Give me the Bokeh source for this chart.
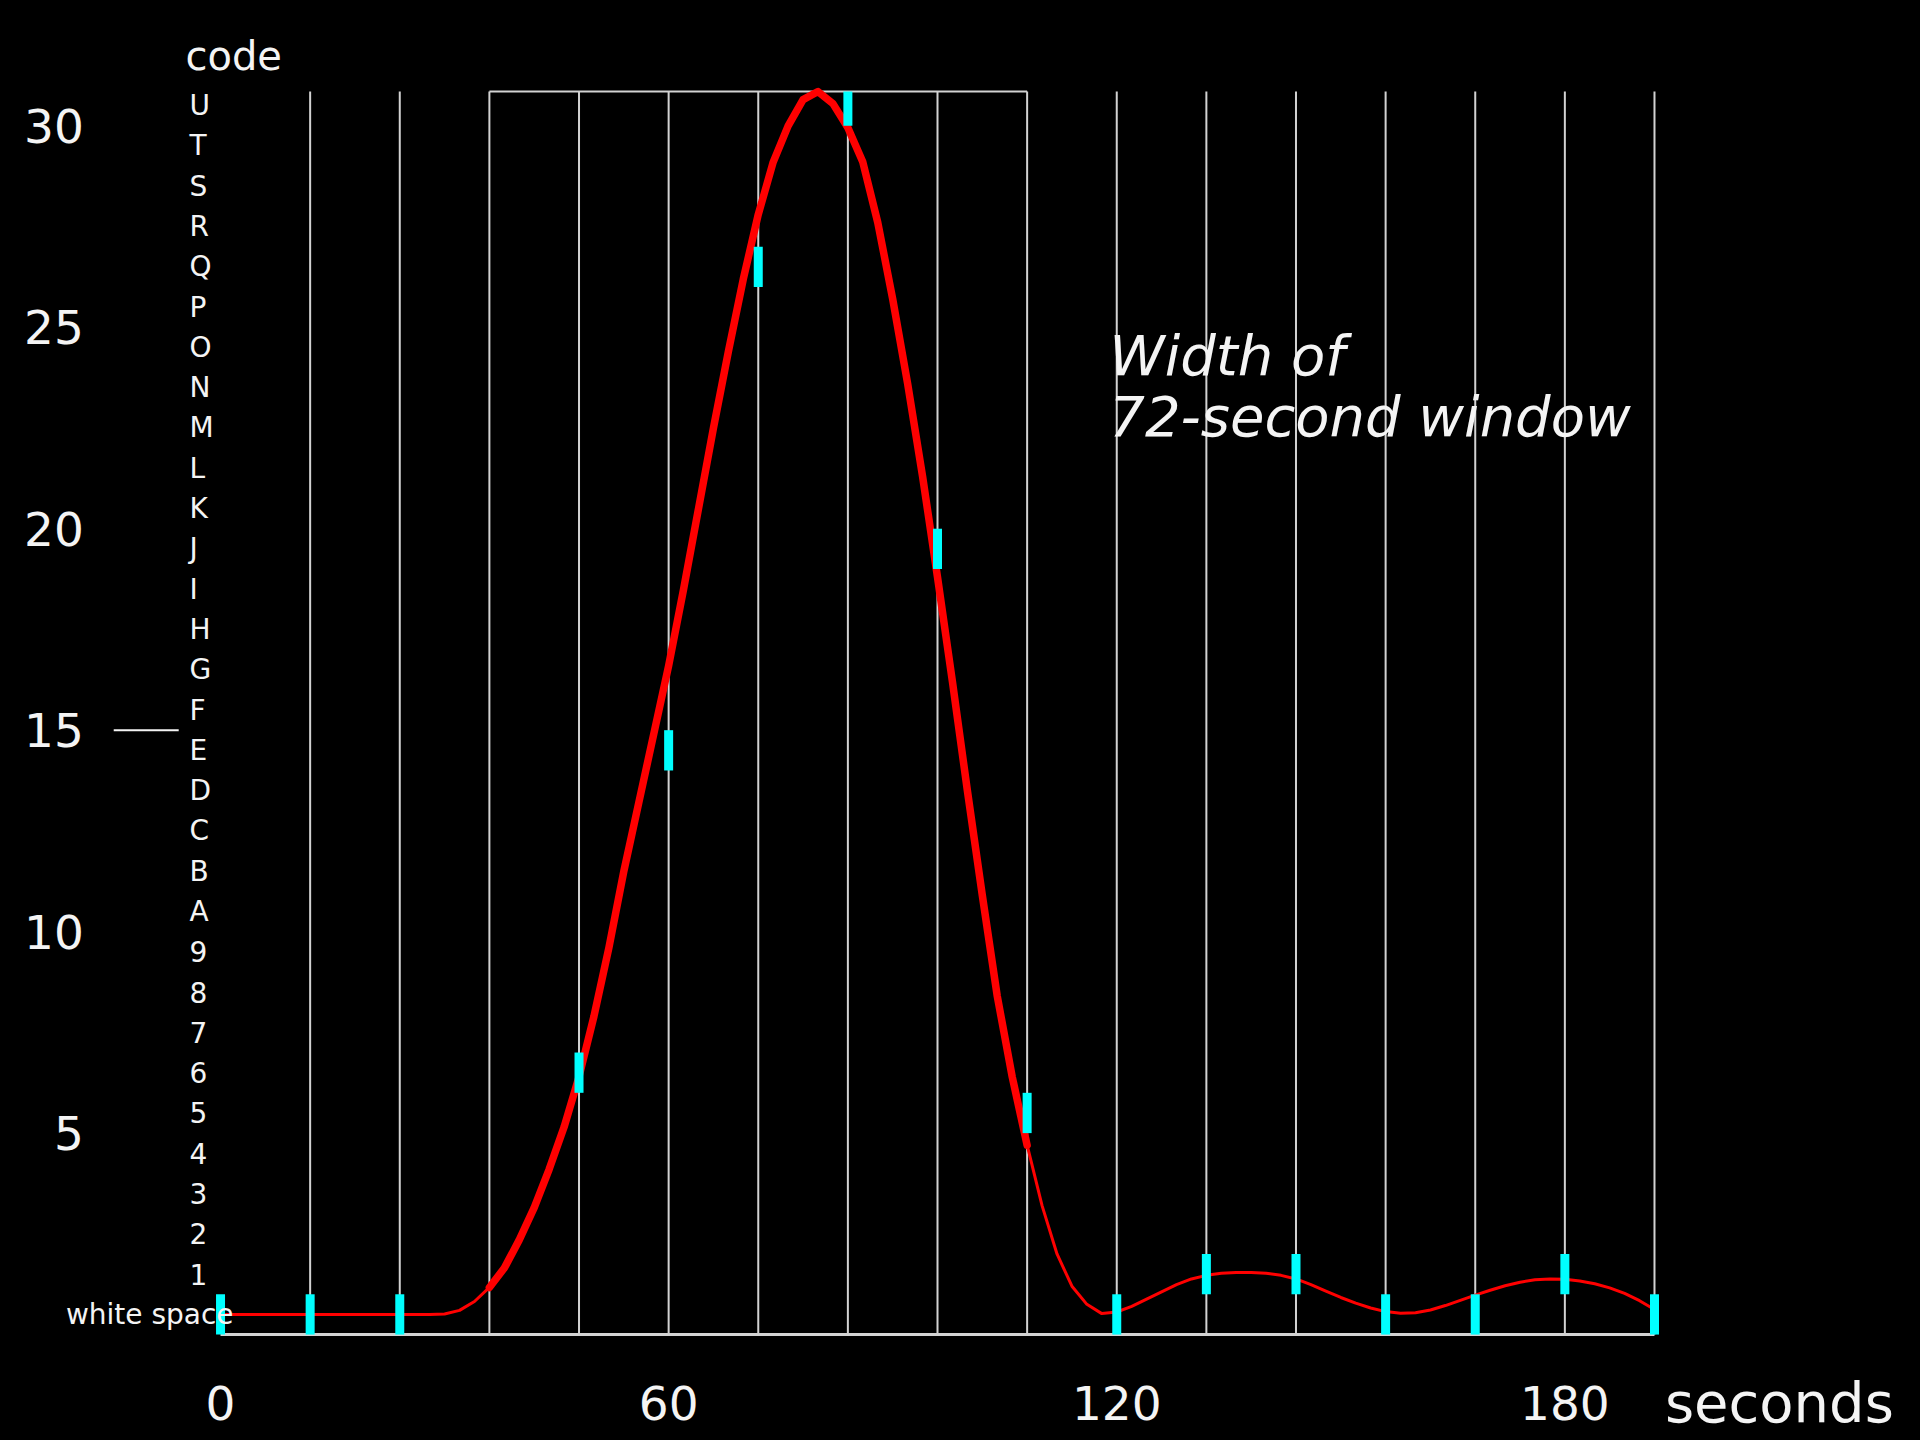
from bokeh.plotting import figure
from bokeh.models import Range1d
from bokeh.core.properties import value
from bokeh.embed import file_html
from bokeh.resources import INLINE

# ---- data ----
codes = ["white space", "1", "2", "3", "4", "5", "6", "7", "8", "9", "A", "B", "C", "D",
         "E", "F", "G", "H", "I", "J", "K", "L", "M", "N", "O", "P", "Q", "R", "S", "T", "U"]
value_ticks = [5, 10, 15, 20, 25, 30]
time_ticks = [0, 60, 120, 180]
grid_times = [12, 24, 36, 48, 60, 72, 84, 96, 108, 120, 132, 144, 156, 168, 180, 192]
window_start = 36
window_end = 108
marked_level = 15

curve_t = [0, 6, 12, 18, 24, 28, 30, 32, 34, 36, 38, 40, 42, 44, 46, 48, 50, 52, 54, 56,
           58, 60, 62, 64, 66, 68, 70, 72, 74, 76, 78, 80, 82, 84, 86, 88, 90, 92, 94, 96,
           98, 100, 102, 104, 106, 108, 110, 112, 114, 116, 118, 120, 122, 124, 126, 128,
           130, 132, 134, 136, 138, 140, 142, 144, 146, 148, 150, 152, 154, 156, 158, 160,
           162, 164, 166, 168, 170, 172, 174, 176, 178, 180, 182, 184, 186, 188, 190, 192]
curve_v = [0.5, 0.5, 0.5, 0.5, 0.5, 0.5, 0.51, 0.6, 0.82, 1.17, 1.65, 2.35, 3.15, 4.1, 5.15,
           6.4, 7.9, 9.6, 11.5, 13.2, 14.9, 16.6, 18.5, 20.5, 22.5, 24.4, 26.2, 27.8, 29.1,
           30.0, 30.65, 30.85, 30.55, 29.95, 29.1, 27.6, 25.7, 23.6, 21.3, 18.8, 16.2, 13.5,
           10.9, 8.4, 6.4, 4.7, 3.2, 2.0, 1.2, 0.75, 0.52, 0.56, 0.7, 0.88, 1.06, 1.24, 1.38,
           1.47, 1.52, 1.54, 1.54, 1.52, 1.47, 1.38, 1.24, 1.08, 0.92, 0.78, 0.66, 0.57, 0.53,
           0.54, 0.61, 0.72, 0.85, 0.98, 1.1, 1.21, 1.3, 1.36, 1.38, 1.37, 1.33, 1.26, 1.16,
           1.02, 0.84, 0.62]

sample_t = [0, 12, 24, 48, 60, 72, 84, 96, 108, 120, 132, 144, 156, 168, 180, 192]
sample_code = [0, 0, 0, 6, 14, 26, 30, 19, 5, 0, 1, 1, 0, 0, 1, 0]

annotation_lines = ["Width of", "72-second window"]
x_unit_label = "seconds"
code_title = "code"

# ---- figure ----
LINE_TOP = 30.85
GRID = "#d2d2d2"
TXT = "#f4f4f4"
FONT = value("DejaVu Sans")

p = figure(width=1900, height=1436,
           x_range=Range1d(-29.46, 224.94), y_range=Range1d(-2.53, 33.11),
           x_axis_location=None, y_axis_location=None,
           output_backend="svg", toolbar_location=None, min_border=0,
           background_fill_color="black", border_fill_color="black", outline_line_color=None)
p.grid.visible = False

# baseline and vertical lines
p.segment(x0=[0], y0=[0], x1=[grid_times[-1]], y1=[0], line_color=GRID, line_width=3)
p.segment(x0=grid_times, y0=[0] * len(grid_times), x1=grid_times, y1=[LINE_TOP] * len(grid_times),
          line_color=GRID, line_width=2)
p.segment(x0=[window_start], y0=[LINE_TOP], x1=[window_end], y1=[LINE_TOP],
          line_color=GRID, line_width=2)

# red curve: thin everywhere, thick inside the window
p.line(curve_t, curve_v, line_color="#ff0000", line_width=3, line_join="round")
in_t = [t for t in curve_t if window_start <= t <= window_end]
in_v = [v for t, v in zip(curve_t, curve_v) if window_start <= t <= window_end]
p.line(in_t, in_v, line_color="#ff0000", line_width=7.5, line_join="round", line_cap="round")

# cyan quantised samples (one code bin each, limited to the window top)
p.segment(x0=sample_t, y0=sample_code, x1=sample_t,
          y1=[min(c + 1, LINE_TOP) for c in sample_code],
          line_color="#00ffff", line_width=9)

# value tick labels (left)
p.text(x=[-18.3] * len(value_ticks), y=value_ticks, text=[str(v) for v in value_ticks],
       text_font=FONT, text_font_size="47px", text_color=TXT,
       text_align="right", text_baseline="middle")
p.segment(x0=[-14.3], y0=[marked_level], x1=[-5.6], y1=[marked_level],
          line_color=TXT, line_width=2)

# time tick labels (bottom)
p.text(x=time_ticks, y=[-1.69] * len(time_ticks), text=[str(t) for t in time_ticks],
       text_font=FONT, text_font_size="47px", text_color=TXT,
       text_align="center", text_baseline="middle")
p.text(x=[193.4], y=[-1.69], text=[x_unit_label], text_font=FONT, text_font_size="56px",
       text_color=TXT, text_align="left", text_baseline="middle")

# code labels
p.text(x=[-4.15] * (len(codes) - 1), y=[i + 0.5 for i in range(1, len(codes))], text=codes[1:],
       text_font=FONT, text_font_size="28px", text_color=TXT,
       text_align="left", text_baseline="middle")
p.text(x=[1.75], y=[0.5], text=[codes[0]], text_font=FONT, text_font_size="28px",
       text_color=TXT, text_align="right", text_baseline="middle")
p.text(x=[-4.7], y=[31.74], text=[code_title], text_font=FONT, text_font_size="40px",
       text_color=TXT, text_align="left", text_baseline="middle")

# annotation
p.text(x=[119.0] * len(annotation_lines), y=[24.3 - i * 1.52 for i in range(len(annotation_lines))],
       text=annotation_lines, text_font=FONT, text_font_size="56px", text_font_style="italic",
       text_color=TXT, text_align="left", text_baseline="middle")

html = file_html(p, INLINE)
html = html.replace("<body>", '<body style="background-color:#000000;">')
open("out.html", "w").write(html)
